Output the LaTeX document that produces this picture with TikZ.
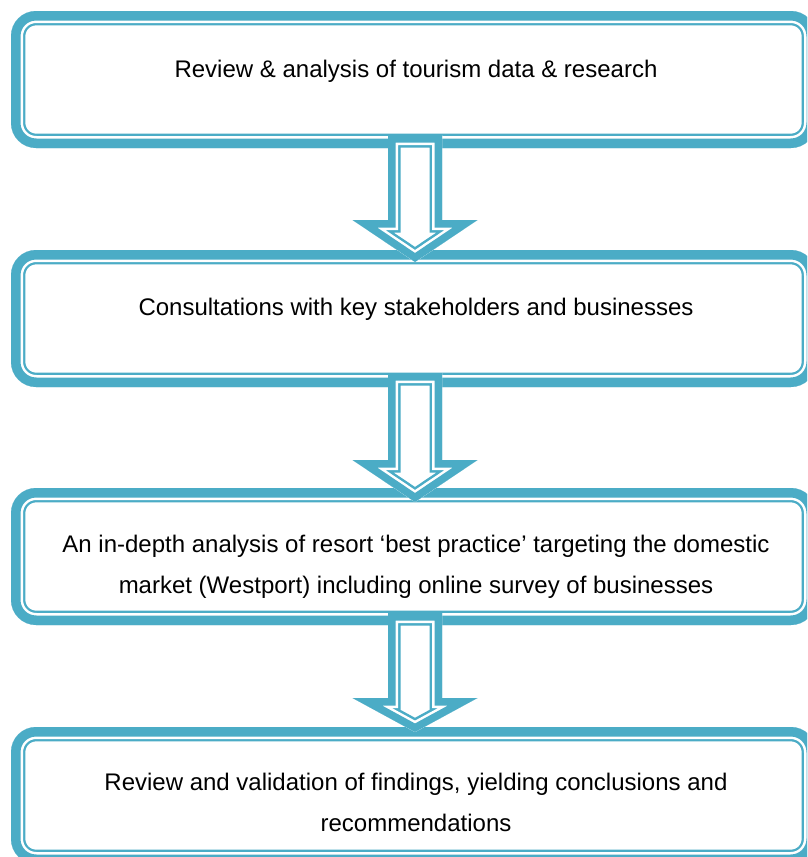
\documentclass[tikz,border=0pt]{standalone}
\usepackage{fontspec}
\setmainfont{Liberation Sans}
\usetikzlibrary{calc}
\definecolor{acc}{HTML}{4BACC6}
\tikzset{
  ttbox/.style={rounded corners=25pt, fill=white, inner sep=0pt, outer sep=0pt,
    minimum width=805pt, minimum height=137pt,
    path picture={
      \draw[rounded corners=25pt, acc, line width=28.6pt]
        (path picture bounding box.south west) rectangle (path picture bounding box.north east);
      \draw[rounded corners=25pt, white, line width=24pt]
        (path picture bounding box.south west) rectangle (path picture bounding box.north east);
      \draw[rounded corners=25pt, acc, line width=19pt]
        (path picture bounding box.south west) rectangle (path picture bounding box.north east);
    }},
  boxtext/.style={anchor=base, font=\fontsize{24}{41}\selectfont, inner sep=0pt, align=center},
  arrband/.style={line join=miter, miter limit=20},
}
% #1 top-centre coordinate, #2 head base depth, #3 tip depth
\newcommand\blockarrow[3]{%
  \begin{scope}[shift={(#1)}]
    \clip (-27,0) -- (27,0) -- (27,#2) -- (62.5,#2) -- (0,#3) -- (-62.5,#2) -- (-27,#2) -- cycle;
    \fill[white] (-70,-5) rectangle (70,#3+5);
    \draw[arrband, acc, line width=25pt] (-27,0) -- (27,0) -- (27,#2) -- (62.5,#2) -- (0,#3) -- (-62.5,#2) -- (-27,#2) -- cycle;
    \draw[arrband, white, line width=20pt] (-27,0) -- (27,0) -- (27,#2) -- (62.5,#2) -- (0,#3) -- (-62.5,#2) -- (-27,#2) -- cycle;
    \draw[arrband, acc, line width=15pt] (-27,0) -- (27,0) -- (27,#2) -- (62.5,#2) -- (0,#3) -- (-62.5,#2) -- (-27,#2) -- cycle;
  \end{scope}}
\begin{document}
\begin{tikzpicture}[x=1pt, y=-1pt]
\useasboundingbox (0,0) rectangle (807,857);
\clip (0,0) rectangle (807,857);
\fill[white] (0,0) rectangle (807,857);
% boxes
\node[ttbox] (b1) at (413.5,79.5) {};
\node[ttbox] (b2) at (413.5,318.5) {};
\node[ttbox] (b3) at (413.5,556.5) {};
\node[ttbox] (b4) at (413.5,795.5) {};
% texts (base anchor = baseline of the last line)
\node[boxtext] (t1) at ($(b1.north)+(2.5,66)$) {Review \& analysis of tourism data \& research};
\node[boxtext] (t2) at ($(b2.north)+(2.5,65)$) {Consultations with key stakeholders and businesses};
\node[boxtext] (t3) at ($(b3.north)+(2.5,105.5)$) {An in-depth analysis of resort ‘best practice’ targeting the domestic\\market (Westport) including online survey of businesses};
\node[boxtext] (t4) at ($(b4.north)+(2.5,104)$) {Review and validation of findings, yielding conclusions and\\recommendations};
% arrows
\coordinate (a1) at ($(b1.south)+(1.5,-13)$);
\coordinate (a2) at ($(b2.south)+(1.5,-14)$);
\coordinate (a3) at ($(b3.south)+(1.5,-12)$);
\blockarrow{a1}{85}{127}
\blockarrow{a2}{87}{129}
\blockarrow{a3}{85}{119}
\end{tikzpicture}
\end{document}
